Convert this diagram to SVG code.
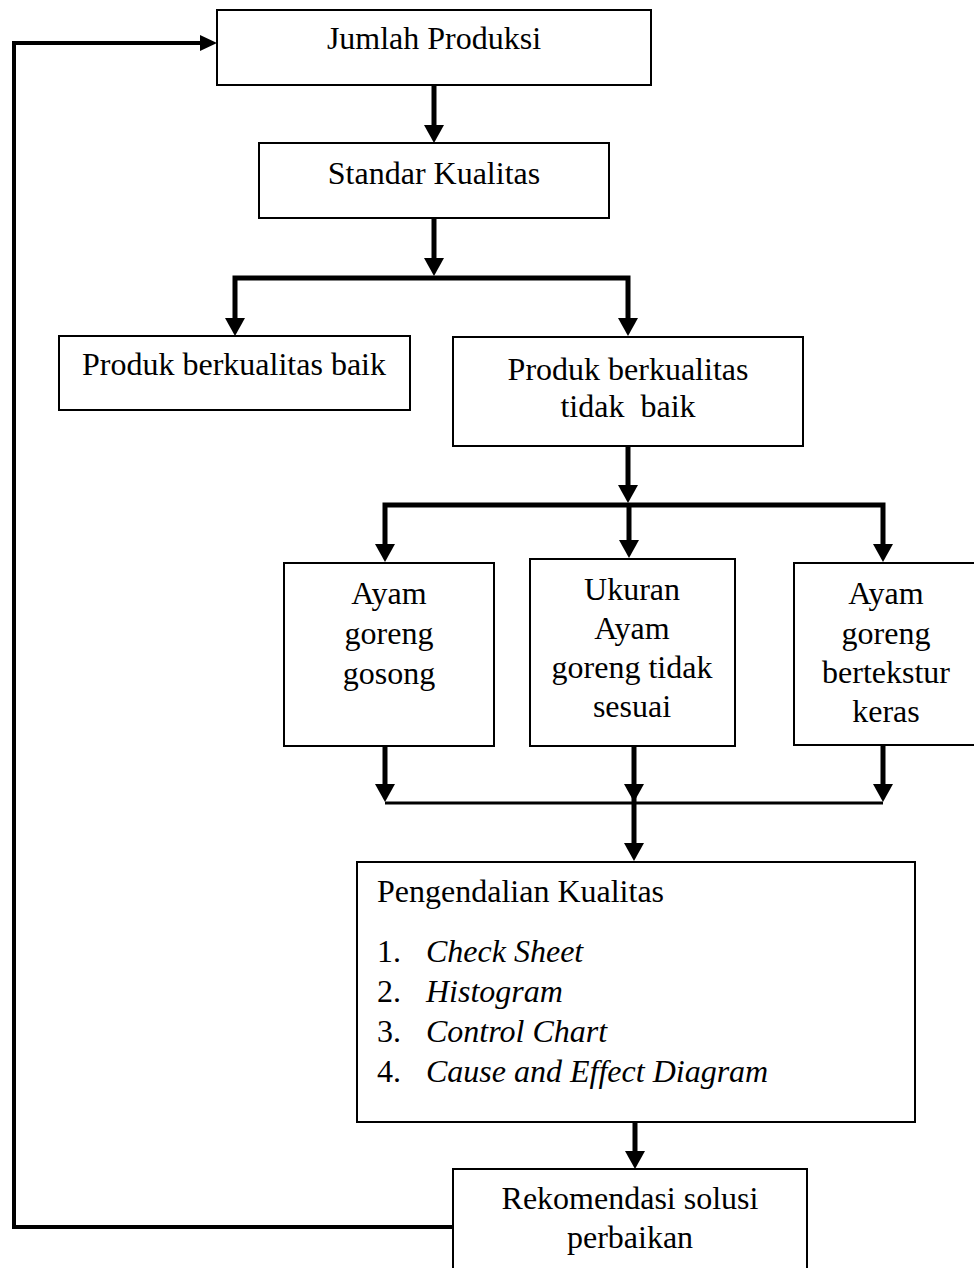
<svg xmlns="http://www.w3.org/2000/svg" width="974" height="1268" viewBox="0 0 974 1268">
<style>
.box{fill:#fff;stroke:#000;stroke-width:2}
text{font-family:"Liberation Serif","Times New Roman",serif;font-size:32px;fill:#000}
.c{text-anchor:middle}
.i{font-style:italic}
.ln{fill:none;stroke:#000;stroke-width:5;stroke-linejoin:miter}
.thin{fill:none;stroke:#000;stroke-width:3}
.fb{fill:none;stroke:#000;stroke-width:4;stroke-linejoin:miter}
</style>
<defs>
<marker id="ah" markerUnits="userSpaceOnUse" markerWidth="18" markerHeight="20" refX="0" refY="10" orient="auto-start-reverse">
<path d="M0,0 L18,10 L0,20 Z" fill="#000"/>
</marker>
<marker id="ahs" markerUnits="userSpaceOnUse" markerWidth="17" markerHeight="16" refX="0" refY="8" orient="auto">
<path d="M0,0 L17,8 L0,16 Z" fill="#000"/>
</marker>
</defs>
<rect width="974" height="1268" fill="#fff"/>
<g id="connectors">
<path class="ln" d="M434,85 V125" marker-end="url(#ah)"/>
<path class="ln" d="M434,218 V258" marker-end="url(#ah)"/>
<path class="ln" d="M235,318 V278 H628 V318" marker-start="url(#ah)" marker-end="url(#ah)"/>
<path class="ln" d="M628,446 V485" marker-end="url(#ah)"/>
<path class="ln" d="M385,544 V505 H883 V544" marker-start="url(#ah)" marker-end="url(#ah)"/>
<path class="ln" d="M629,505 V540" marker-end="url(#ah)"/>
<path class="ln" d="M385,746 V784" marker-end="url(#ah)"/>
<path class="ln" d="M883,745 V784" marker-end="url(#ah)"/>
<path class="ln" d="M634,746 V784" marker-end="url(#ah)"/>
<path class="thin" d="M385,803 H883"/>
<path class="ln" d="M634,784 V843" marker-end="url(#ah)"/>
<path class="ln" d="M635,1122 V1151" marker-end="url(#ah)"/>
<path class="fb" d="M453,1227 H14 V43 H200" marker-end="url(#ahs)"/>
</g>
<g id="n1">
<rect class="box" x="217" y="10" width="434" height="75"/>
<text class="c" x="434" y="49">Jumlah Produksi</text>
</g>
<g id="n2">
<rect class="box" x="259" y="143" width="350" height="75"/>
<text class="c" x="434" y="184">Standar Kualitas</text>
</g>
<g id="n3">
<rect class="box" x="59" y="336" width="351" height="74"/>
<text class="c" x="234" y="375">Produk berkualitas baik</text>
</g>
<g id="n4">
<rect class="box" x="453" y="337" width="350" height="109"/>
<text class="c" x="628" y="380">Produk berkualitas</text>
<text class="c" x="628" y="417" style="white-space:pre">tidak  baik</text>
</g>
<g id="n5">
<rect class="box" x="284" y="563" width="210" height="183"/>
<text class="c" x="389" y="604">Ayam</text>
<text class="c" x="389" y="644">goreng</text>
<text class="c" x="389" y="684">gosong</text>
</g>
<g id="n6">
<rect class="box" x="530" y="559" width="205" height="187"/>
<text class="c" x="632" y="600">Ukuran</text>
<text class="c" x="632" y="639">Ayam</text>
<text class="c" x="632" y="678">goreng tidak</text>
<text class="c" x="632" y="717">sesuai</text>
</g>
<g id="n7">
<rect class="box" x="794" y="563" width="190" height="182"/>
<text class="c" x="886" y="604">Ayam</text>
<text class="c" x="886" y="644">goreng</text>
<text class="c" x="886" y="683">bertekstur</text>
<text class="c" x="886" y="722">keras</text>
</g>
<g id="n8">
<rect class="box" x="357" y="862" width="558" height="260"/>
<text x="377" y="902">Pengendalian Kualitas</text>
<text x="377" y="962">1.</text><text class="i" x="426" y="962">Check Sheet</text>
<text x="377" y="1002">2.</text><text class="i" x="426" y="1002">Histogram</text>
<text x="377" y="1042">3.</text><text class="i" x="426" y="1042">Control Chart</text>
<text x="377" y="1082">4.</text><text class="i" x="426" y="1082">Cause and Effect Diagram</text>
</g>
<g id="n9">
<rect class="box" x="453" y="1169" width="354" height="111"/>
<text class="c" x="630" y="1209">Rekomendasi solusi</text>
<text class="c" x="630" y="1248">perbaikan</text>
</g>
</svg>
